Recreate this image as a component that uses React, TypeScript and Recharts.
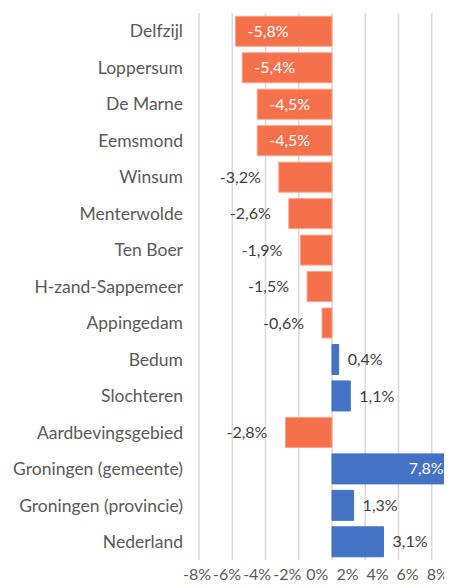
import React from 'react';
import {BarChart, Bar, XAxis, YAxis, CartesianGrid, Cell, LabelList} from 'recharts';

const gemeenten = [
    'Delfzijl', 'Loppersum', 'De Marne', 'Eemsmond', 'Winsum', 'Menterwolde', 'Ten Boer',
    'H-zand-Sappemeer', 'Appingedam', 'Bedum', 'Slochteren', 'Aardbevingsgebied',
    'Groningen (gemeente)', 'Groningen (provincie)', 'Nederland',
];
const groei = [-5.8, -5.4, -4.5, -4.5, -3.2, -2.6, -1.9, -1.5, -0.6, 0.4, 1.1, -2.8, 7.8, 1.3, 3.1];
const xTicks = [-8, -6, -4, -2, 0, 2, 4, 6, 8];

const ORANJE = '#F4714B';
const BLAUW = '#4472C4';
const FONT = 'Lato, "Open Sans", sans-serif';

const data = gemeenten.map((naam, i) => ({naam, waarde: groei[i]}));

const fmt = (v: number) => v.toFixed(1).replace('.', ',') + '%';

const DataLabel = (props: any) => {
    const {x, y, width, height, value} = props;
    const v = Number(value);
    const left = Math.min(x, x + width);
    const right = Math.max(x, x + width);
    const cy = y + height / 2;
    const inside = Math.abs(v) >= 4;
    let tx: number;
    let anchor: 'start' | 'end';
    if (v < 0) {
        tx = inside ? left + 12 : left - 18;
        anchor = inside ? 'start' : 'end';
    } else {
        tx = inside ? right - 18 : right + 9;
        anchor = inside ? 'end' : 'start';
    }
    return (
        <text x={tx} y={cy} dy="0.35em" textAnchor={anchor} fontSize={16} fontFamily={FONT}
              fill={inside ? '#ffffff' : '#404040'}>
            {fmt(v)}
        </text>
    );
};

// tick labels staan in het origineel iets dichter op elkaar dan de rasterlijnen
const AsTick = (props: any) => {
    const {x, y, payload} = props;
    const tx = 197 + (x - 199) * 0.905;
    return (
        <text x={tx} y={y} dy="0.71em" textAnchor="middle" fontSize={16} fontFamily={FONT} fill="#595959">
            {`${payload.value}%`}
        </text>
    );
};

const App = () => {
    return (
        <div style={{margin: -8, height: 588, overflow: 'hidden', background: '#fff'}}>
            <BarChart width={452} height={588} data={data} layout="vertical"
                      margin={{top: 13, right: -13, bottom: 0, left: 0}} barCategoryGap="9%">
                <CartesianGrid horizontal={false} stroke="#d9d9d9" strokeWidth={1.5}/>
                <XAxis type="number" domain={[-8, 8]} ticks={xTicks} height={28} interval={0}
                       axisLine={false} tickLine={false} tickMargin={3} tick={<AsTick/>}/>
                <YAxis type="category" dataKey="naam" width={199} axisLine={false} tickLine={false}
                       tickMargin={10} interval={0}
                       tick={{fontSize: 17.5, fill: '#595959', fontFamily: FONT}}/>
                <Bar dataKey="waarde" isAnimationActive={false}>
                    {data.map((d, i) => (
                        <Cell key={i} fill={d.waarde < 0 ? ORANJE : BLAUW}
                              stroke={d.waarde < 0 ? '#F8A287' : BLAUW} strokeWidth={1}/>
                    ))}
                    <LabelList dataKey="waarde" content={DataLabel}/>
                </Bar>
            </BarChart>
        </div>
    );
};

export default App;
